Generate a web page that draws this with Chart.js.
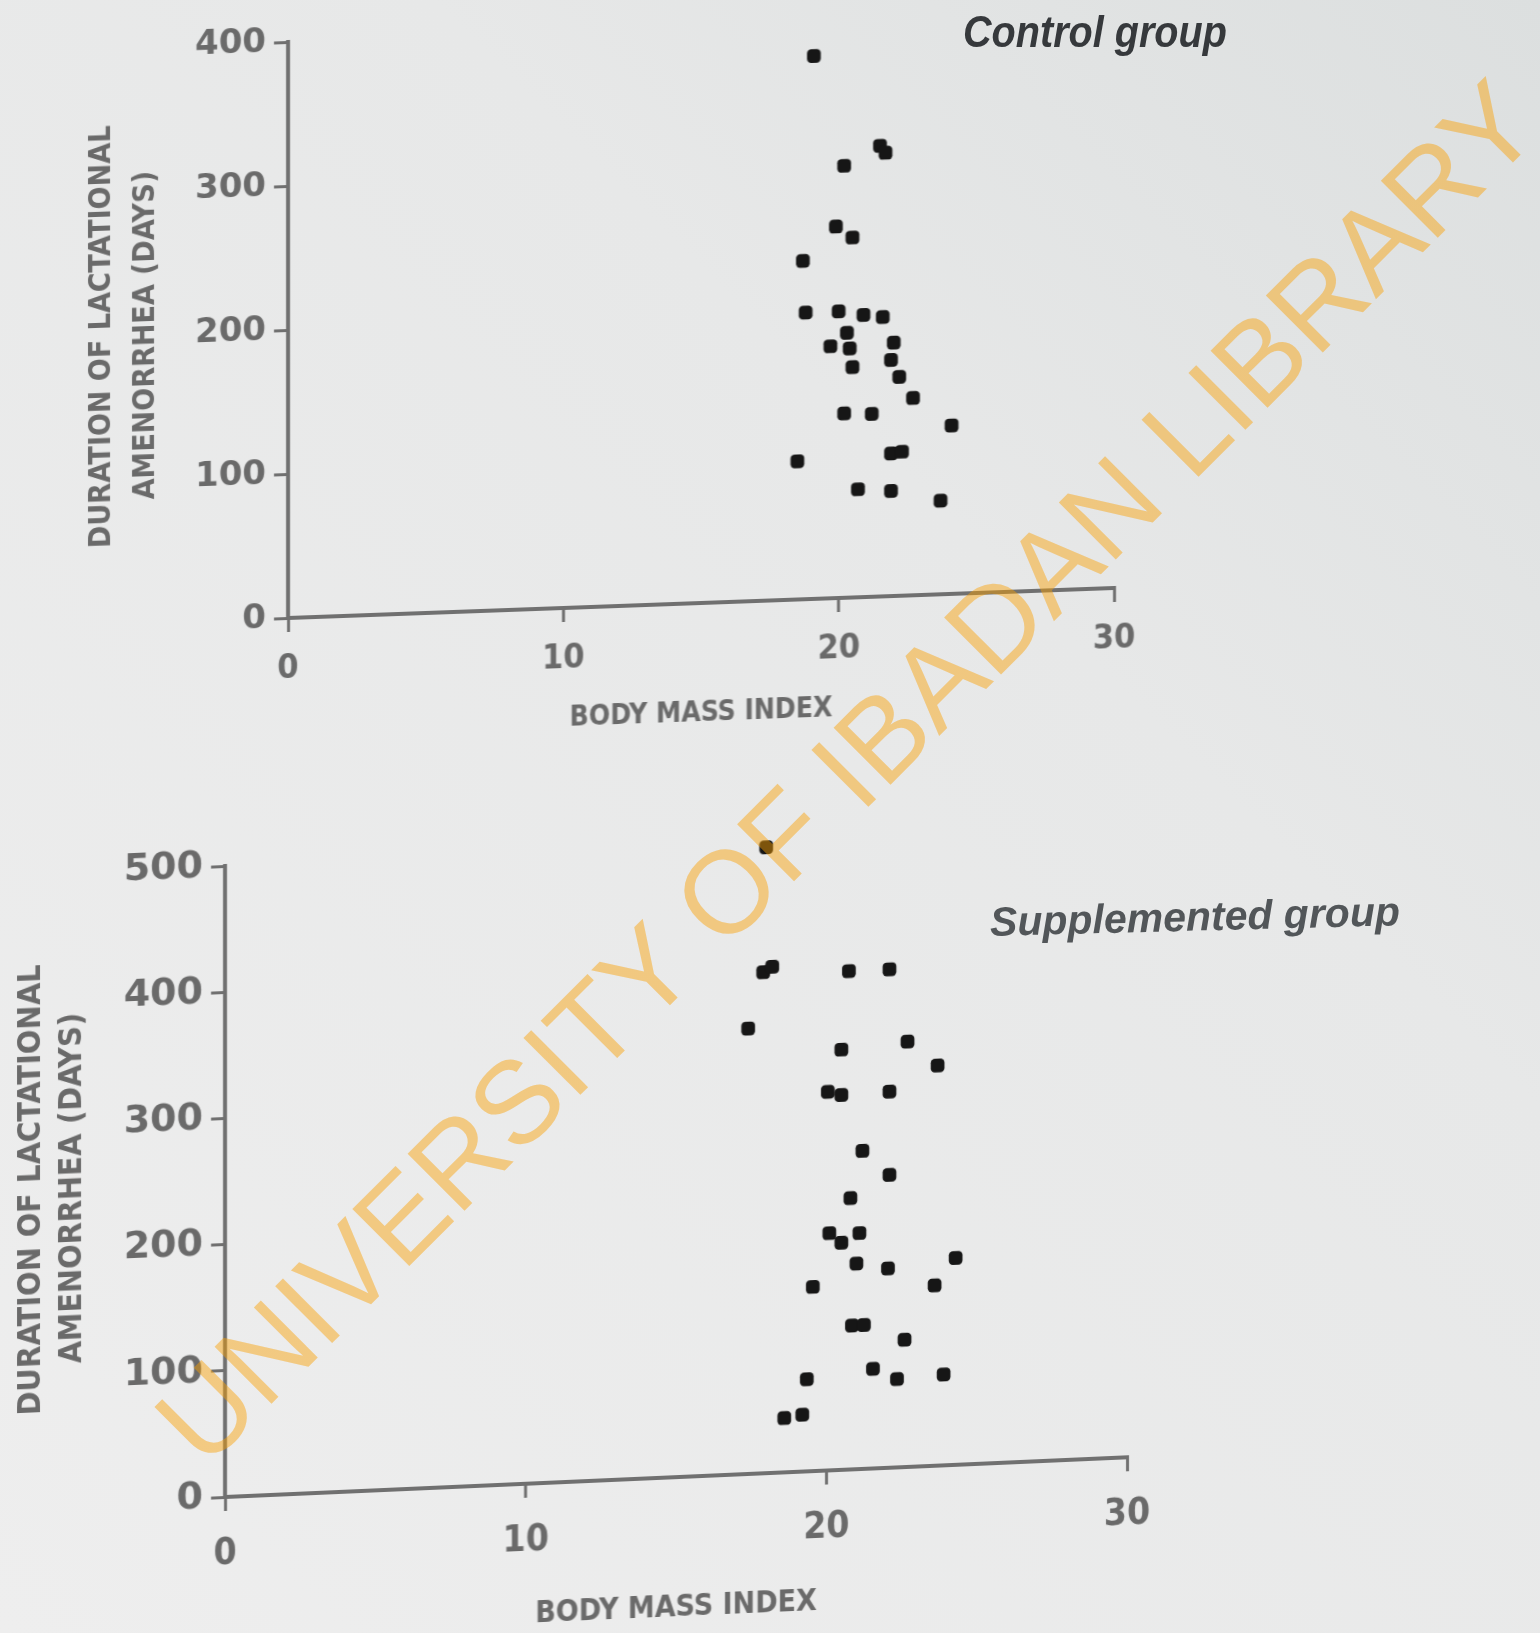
<!DOCTYPE html>
<html>
<head>
<meta charset="utf-8">
<title>Lactational amenorrhea vs body mass index</title>
<script src="https://cdn.jsdelivr.net/npm/chart.js@4.4.0/dist/chart.umd.min.js"></script>
<style>
    html, body {
        margin: 0;
        padding: 0;
        width: 1540px;
        height: 1633px;
        overflow: hidden;
        background: linear-gradient(225deg, #dcdfdf 0%, #e7e8e8 35%, #eeeeee 100%);
    }
    canvas {
        position: absolute;
        left: 0;
    }
    /* the scanned page is sheared a little: vertical axes stay upright, the x axes climb to the right */
    #controlChart {
        top: 0;
        transform-origin: 288px 618px;
        transform: skewY(-2.08deg);
    }
    #supplementedChart {
        top: 800px;
        transform-origin: 225px 697px;
        transform: skewY(-2.52deg);
    }
    .groupLabel {
        position: absolute;
        white-space: nowrap;
        line-height: 1;
        font-weight: bold;
        font-style: italic;
        font-family: "Liberation Sans", Arial, sans-serif;
    }
    #controlLabel {
        left: 963px;
        top: 10px;
        font-size: 44px;
        color: #36393c;
        transform-origin: left center;
        transform: scaleX(0.9);
    }
    #supplementedLabel {
        left: 990px;
        top: 902px;
        font-size: 41px;
        color: #525659;
        transform-origin: left center;
        transform: rotate(-1.5deg);
    }
    #watermark {
        position: absolute;
        left: 846px;
        top: 772px;
        transform: translate(-50%, -50%) rotate(-45deg);
        font-family: "Liberation Sans", Arial, sans-serif;
        font-size: 117px;
        line-height: 1;
        white-space: nowrap;
        color: rgba(250, 160, 0, 0.45);
        pointer-events: none;
        z-index: 10;
    }
</style>
</head>
<body>
<canvas id="controlChart" width="1540" height="760"></canvas>
<canvas id="supplementedChart" width="1540" height="860"></canvas>
<div id="controlLabel" class="groupLabel">Control group</div>
<div id="supplementedLabel" class="groupLabel">Supplemented group</div>
<div id="watermark">UNIVERSITY OF IBADAN LIBRARY</div>

<script>
// one entry per woman
var controlBmi = [19.1, 21.5, 21.7, 20.2, 19.9, 20.5, 18.7, 18.8, 20.0, 20.9, 21.6, 20.3, 19.7, 20.4,
    20.5, 22.0, 21.9, 22.2, 22.7, 20.2, 21.2, 24.1, 21.9, 22.3, 18.5, 20.7, 21.9, 23.7];
var controlDays = [377, 313, 308, 300, 258, 250, 235, 199, 199, 196, 194, 184, 175, 173,
    160, 176, 164, 152, 137, 128, 127, 117, 99, 100, 96, 75, 73, 65];

var supplementedBmi = [18.0, 17.9, 18.2, 20.75, 22.1, 17.4, 20.5, 22.7, 23.7, 20.05, 20.5, 22.1, 21.2, 22.1,
    20.8, 20.1, 20.5, 21.1, 21.0, 22.05, 24.3, 23.6, 19.55, 20.85, 21.25, 22.6, 21.55, 22.35,
    23.9, 19.35, 18.6, 19.2];
var supplementedDays = [496, 397, 401, 395, 395, 353, 333, 337, 317, 300, 297, 298, 252, 232,
    215, 188, 180, 187, 163, 158, 164, 143, 146, 114, 114, 101, 79, 70,
    72, 73, 43, 45];

var bmiTicks = [0, 10, 20, 30];
var controlDayTicks = [0, 100, 200, 300, 400];
var supplementedDayTicks = [0, 100, 200, 300, 400, 500];

var yTitle = ["DURATION OF LACTATIONAL", "AMENORRHEA (DAYS)"];
var xTitle = "BODY MASS INDEX";

var narrowFont = "'Liberation Sans Narrow', 'DejaVu Sans Condensed', 'Liberation Sans', sans-serif";
var axisGrey = "#707070";
var textGrey = "#6a6a6a";

function drawScatter(id, bmi, days, dayTicks, layout) {
    var points = bmi.map(function(b, i) {
        return {x: b, y: days[i]};
    });

    var chartObject = document.getElementById(id).getContext("2d");

    var chartData = {
        datasets: [
            {
                data: points,
                pointStyle: "rectRounded",
                pointRadius: 8,
                pointHoverRadius: 8,
                backgroundColor: "#161616",
                borderWidth: 0,
                clip: false
            }
        ]
    };

    var chartOptions = {
        responsive: false,
        animation: false,
        devicePixelRatio: 1,
        layout: {padding: layout.padding},
        plugins: {
            legend: {display: false},
            tooltip: {enabled: false}
        },
        scales: {
            x: {
                type: "linear",
                min: 0,
                max: 30,
                afterBuildTicks: function(scale) {
                    scale.ticks = bmiTicks.map(function(v) { return {value: v}; });
                },
                afterFit: function(scale) {
                    scale.height = layout.xHeight;
                },
                ticks: {
                    color: textGrey,
                    padding: layout.xTickPadding,
                    font: {family: narrowFont, size: layout.xTickSize, weight: "bold"}
                },
                grid: {
                    drawOnChartArea: false,
                    drawTicks: true,
                    tickLength: 14,
                    tickWidth: 3,
                    tickColor: axisGrey,
                    color: axisGrey,
                    lineWidth: 3
                },
                border: {display: true, color: axisGrey, width: 4},
                title: {
                    display: true,
                    text: xTitle,
                    color: textGrey,
                    padding: {top: 0, bottom: layout.xTitlePad},
                    font: {family: narrowFont, size: layout.xTitleSize, weight: "bold", lineHeight: 1.2}
                }
            },
            y: {
                type: "linear",
                min: 0,
                max: dayTicks[dayTicks.length - 1],
                afterBuildTicks: function(scale) {
                    scale.ticks = dayTicks.map(function(v) { return {value: v}; });
                },
                afterFit: function(scale) {
                    scale.width = layout.yWidth;
                },
                ticks: {
                    color: textGrey,
                    padding: 8,
                    font: {family: "'DejaVu Sans', sans-serif", size: layout.yTickSize, weight: "bold"}
                },
                grid: {
                    drawOnChartArea: false,
                    drawTicks: true,
                    tickLength: 14,
                    tickWidth: 3,
                    tickColor: axisGrey,
                    color: axisGrey,
                    lineWidth: 3
                },
                border: {display: true, color: axisGrey, width: 4},
                title: {
                    display: true,
                    text: yTitle,
                    color: textGrey,
                    padding: {top: layout.yTitlePad, bottom: 0},
                    font: {family: narrowFont, size: layout.yTitleSize, weight: "bold", lineHeight: layout.yTitleLine}
                }
            }
        }
    };

    return new Chart(chartObject, {type: "scatter", data: chartData, options: chartOptions});
}

drawScatter("controlChart", controlBmi, controlDays, controlDayTicks, {
    padding: {top: 42, right: 426, bottom: 0, left: 0},
    xHeight: 142,
    yWidth: 288,
    xTickSize: 34,
    xTickPadding: 17,
    yTickSize: 34,
    xTitleSize: 28,
    xTitlePad: 14,
    yTitleSize: 30,
    yTitleLine: 1.47,
    yTitlePad: 80
});

drawScatter("supplementedChart", supplementedBmi, supplementedDays, supplementedDayTicks, {
    padding: {top: 66, right: 413, bottom: 0, left: 0},
    xHeight: 163,
    yWidth: 225,
    xTickSize: 37,
    xTickPadding: 21,
    yTickSize: 38,
    xTitleSize: 30,
    xTitlePad: 14,
    yTitleSize: 32,
    yTitleLine: 1.28,
    yTitlePad: 11
});
</script>
</body>
</html>
